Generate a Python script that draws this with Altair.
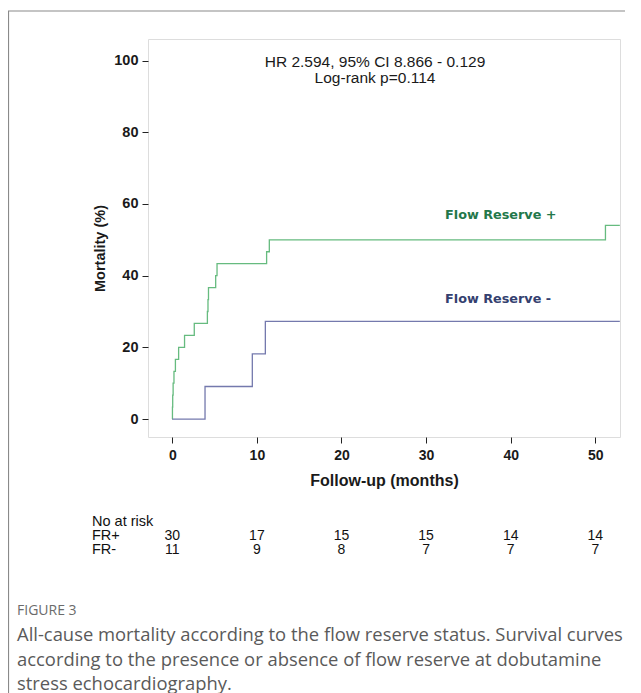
import altair as alt
import pandas as pd

# ---- data ----
fr_pos_time = [0, 0.02, 0.05, 0.1, 0.2, 0.37, 0.75, 1.45, 2.6, 4.15, 4.22, 4.28, 5.13, 5.29, 11.15, 11.47, 51.2, 52.9]
fr_pos_mort = [0, 3.33, 6.67, 10.0, 13.33, 16.67, 20.0, 23.33, 26.67, 30.0, 33.33, 36.67, 40.0, 43.33, 46.67, 50.0, 54.0, 54.0]
fr_neg_time = [0, 3.87, 9.46, 11.0, 52.9]
fr_neg_mort = [0, 9.09, 18.18, 27.27, 27.27]

risk_times = [0, 10, 20, 30, 40, 50]
risk_pos = [30, 17, 15, 15, 14, 14]
risk_neg = [11, 9, 8, 7, 7, 7]

x_ticks = [0, 10, 20, 30, 40, 50]
y_ticks = [0, 20, 40, 60, 80, 100]

GREEN_LINE = "#66bb7f"
GREEN_TEXT = "#23774a"
BLUE_LINE = "#7479ad"
BLUE_TEXT = "#34406f"

W, H = 472, 398
XDOM = [-2.87, 52.92]
YDOM = [-5.0, 106.0]

curve_df = pd.DataFrame(
    {"time": fr_pos_time, "mort": fr_pos_mort, "group": "FR+"}
)
curve_df = pd.concat(
    [curve_df, pd.DataFrame({"time": fr_neg_time, "mort": fr_neg_mort, "group": "FR-"})],
    ignore_index=True,
)

xs = alt.Scale(domain=XDOM, nice=False, zero=False)
ys = alt.Scale(domain=YDOM, nice=False, zero=False)

x_axis = alt.Axis(
    values=x_ticks, title="Follow-up (months)", grid=False, domain=False,
    tickSize=6, tickColor="#222", labelFont="Liberation Sans", labelFontWeight="bold",
    labelFontSize=14, labelColor="#1a1a1a", labelPadding=5,
    titleFont="Liberation Sans", titleFontWeight="bold", titleFontSize=16, titleColor="#1a1a1a",
    titleX=236, titleY=43, titleBaseline="middle", titleAlign="center",
)
y_axis = alt.Axis(
    values=y_ticks, title="Mortality (%)", grid=False, domain=False,
    tickSize=6, tickColor="#222", labelFont="Liberation Sans", labelFontWeight="bold",
    labelFontSize=14.5, labelColor="#1a1a1a", labelPadding=4,
    titleFont="Liberation Sans", titleFontWeight="bold", titleFontSize=14.5, titleColor="#1a1a1a",
    titleX=-48, titleY=209, titleAngle=270, titleBaseline="middle", titleAlign="center",
)

curves = alt.Chart(curve_df).mark_line(interpolate="step-after", strokeWidth=1.3, clip=True).encode(
    x=alt.X("time:Q", scale=xs, axis=x_axis),
    y=alt.Y("mort:Q", scale=ys, axis=y_axis),
    color=alt.Color("group:N", scale=alt.Scale(domain=["FR+", "FR-"], range=[GREEN_LINE, BLUE_LINE]), legend=None),
    detail="group:N",
)

one = pd.DataFrame({"k": [0]})

hr_text = alt.Chart(one).mark_text(
    text=["HR 2.594, 95% CI 8.866 - 0.129", "Log-rank p=0.114"],
    font="Liberation Sans", fontSize=15.5, lineHeight=15.5, color="#1a1a1a",
    align="center", baseline="middle",
).encode(x=alt.value(227), y=alt.value(23))

lab_pos = alt.Chart(one).mark_text(
    text="Flow Reserve +", font="DejaVu Sans", fontWeight="bold", fontSize=12.8,
    color=GREEN_TEXT, align="left", baseline="middle",
).encode(x=alt.value(297), y=alt.value(176))

lab_neg = alt.Chart(one).mark_text(
    text="Flow Reserve -", font="DejaVu Sans", fontWeight="bold", fontSize=12.8,
    color=BLUE_TEXT, align="left", baseline="middle",
).encode(x=alt.value(297), y=alt.value(260))

risk_df = pd.DataFrame({"time": risk_times, "pos": risk_pos, "neg": risk_neg})

risk_pos_t = alt.Chart(risk_df).mark_text(
    font="Liberation Sans", fontSize=14, color="#111", align="center", baseline="middle",
).encode(x=alt.X("time:Q", scale=xs), y=alt.value(497), text="pos:Q")
risk_neg_t = alt.Chart(risk_df).mark_text(
    font="Liberation Sans", fontSize=14, color="#111", align="center", baseline="middle",
).encode(x=alt.X("time:Q", scale=xs), y=alt.value(511), text="neg:Q")

risk_head = alt.Chart(one).mark_text(
    text=["No at risk", "FR+", "FR-"], font="Liberation Sans", fontSize=14.5, lineHeight=14,
    color="#111", align="left", baseline="middle",
).encode(x=alt.value(-56), y=alt.value(483))

fig_label = alt.Chart(one).mark_text(
    text="FIGURE 3", font="Open Sans", fontSize=14, color="#6b6b6b",
    align="left", baseline="middle",
).encode(x=alt.value(-131), y=alt.value(572))

caption = alt.Chart(one).mark_text(
    text=[
        "All-cause mortality according to the flow reserve status. Survival curves",
        "according to the presence or absence of flow reserve at dobutamine",
        "stress echocardiography.",
    ],
    font="Open Sans", fontSize=18.4, lineHeight=24.5, color="#5a5a5a",
    align="left", baseline="middle",
).encode(x=alt.value(-131), y=alt.value(596))

border = alt.Chart(one).mark_rect(
    fill=None, stroke="#8a8a8a", strokeWidth=1.2, clip=False,
).encode(x=alt.value(-139.5), x2=alt.value(520), y=alt.value(-28), y2=alt.value(720))

chart = alt.layer(
    border, curves, hr_text, lab_pos, lab_neg, risk_head, risk_pos_t, risk_neg_t, fig_label, caption
).properties(
    width=W, height=H,
    autosize=alt.AutoSizeParams(type="none"),
    padding={"left": 140, "top": 31, "right": 5, "bottom": 258},
).configure_view(
    stroke="#555", strokeWidth=1.3,
).configure(background="white")

chart.save("out.html", embed_options={"renderer": "svg", "actions": False})
